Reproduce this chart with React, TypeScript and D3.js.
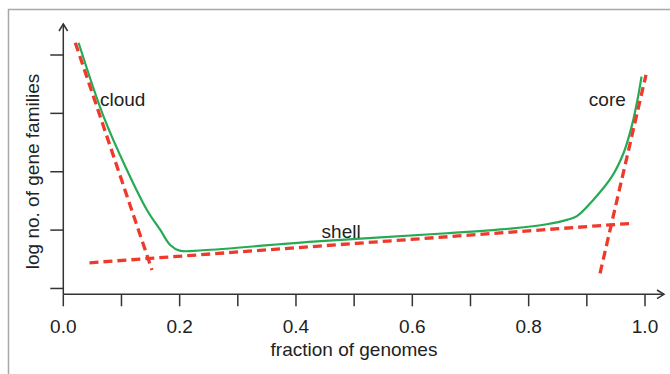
import React from "react";
import * as d3 from "d3";

// green curve (fraction of genomes vs log no. of gene families)
const curveX = [0.0263, 0.0693, 0.1094, 0.1438, 0.1667, 0.1838, 0.2, 0.24, 0.4296, 0.659, 0.773, 0.831, 0.866, 0.883, 0.911, 0.943, 0.963, 0.977, 0.987, 0.994];
const curveY = [5.21, 3.945, 3.03, 2.345, 2.002, 1.745, 1.648, 1.655, 1.802, 1.946, 2.031, 2.1, 2.175, 2.24, 2.517, 2.916, 3.317, 3.773, 4.23, 4.63];

// dashed fit lines: [x0, y0, x1, y1]
const fitNames = ["cloud", "shell", "core"];
const fitX0 = [0.0206, 0.045, 0.9227];
const fitY0 = [5.21, 1.44, 1.26];
const fitX1 = [0.1524, 0.979, 1.0017];
const fitY1 = [1.317, 2.117, 4.66];

const xTicks = [0, 0.1, 0.2, 0.3, 0.4, 0.5, 0.6, 0.7, 0.8, 0.9, 1.0];
const xTickLabels = ["0.0", "0.2", "0.4", "0.6", "0.8", "1.0"];
const xTickLabelValues = [0, 0.2, 0.4, 0.6, 0.8, 1.0];
const yTicks = [1, 2, 3, 4, 5];

const labels = ["cloud", "shell", "core"];
const labelX = [0.063, 0.444, 0.967];
const labelY = [4.13, 1.87, 4.13];
const labelAnchor = ["start", "start", "end"];

export default function App() {
  const x = d3.scaleLinear().domain([0, 1]).range([63.3, 645]);
  const y = d3.scaleLinear().domain([0.9, 5]).range([294.3, 55]);
  const axisColor = "#333";
  const font = "'Liberation Sans', Arial, Helvetica, sans-serif";

  const pts: [number, number][] = curveX.map((v, i) => [v, curveY[i]]);
  const line = d3
    .line<[number, number]>()
    .x((d) => x(d[0]))
    .y((d) => y(d[1]))
    .curve(d3.curveCatmullRom.alpha(0.5));

  const x0 = x(0);
  const y0 = y(0.9);
  const yTop = 24;
  const xEnd = 664;

  return (
    <svg width={670} height={374} style={{ position: "absolute", left: 0, top: 0, background: "#fff" }}>
      <rect x={0} y={0} width={670} height={374} fill="#fff" />
      {/* frame */}
      <path d="M8.5,374 L8.5,9.5 L670,9.5" fill="none" stroke="#a8a8a8" strokeWidth={1.5} />

      {/* axes */}
      <line x1={x0} y1={y0} x2={x0} y2={yTop} stroke={axisColor} strokeWidth={1.5} />
      <path d={`M${x0 - 4.3},${yTop + 7} L${x0},${yTop} L${x0 + 4.3},${yTop + 7}`} fill="none" stroke={axisColor} strokeWidth={1.5} />
      <line x1={x0} y1={y0} x2={xEnd} y2={y0} stroke={axisColor} strokeWidth={1.5} />
      <path d={`M${xEnd - 7},${y0 - 4.3} L${xEnd},${y0} L${xEnd - 7},${y0 + 4.3}`} fill="none" stroke={axisColor} strokeWidth={1.5} />

      {xTicks.map((t) => (
        <line key={"xt" + t} x1={x(t)} x2={x(t)} y1={y0} y2={y0 + 12} stroke={axisColor} strokeWidth={1.5} />
      ))}
      {yTicks.map((t) => (
        <line key={"yt" + t} x1={x0 - 13} x2={x0} y1={y(t)} y2={y(t)} stroke={axisColor} strokeWidth={1.5} />
      ))}
      {xTickLabels.map((l, i) => (
        <text key={"xl" + l} x={x(xTickLabelValues[i])} y={333} textAnchor="middle" fontFamily={font} fontSize={19} fill="#222">
          {l}
        </text>
      ))}
      <text x={354} y={356} textAnchor="middle" fontFamily={font} fontSize={19} fill="#222">
        fraction of genomes
      </text>
      <text transform={`translate(39,171.5) rotate(-90)`} textAnchor="middle" fontFamily={font} fontSize={19} fill="#222">
        log no. of gene families
      </text>

      {/* green curve */}
      <path d={line(pts) || ""} fill="none" stroke="#27aa55" strokeWidth={2.2} />

      {/* dashed fits */}
      {fitNames.map((n, i) => (
        <line
          key={"fit" + n}
          x1={x(fitX0[i])}
          y1={y(fitY0[i])}
          x2={x(fitX1[i])}
          y2={y(fitY1[i])}
          stroke="#ee3a2b"
          strokeWidth={3.3}
          strokeDasharray="9,5"
        />
      ))}

      {labels.map((l, i) => (
        <text key={"lab" + l} x={x(labelX[i])} y={y(labelY[i])} textAnchor={labelAnchor[i] as any} fontFamily={font} fontSize={19} fill="#222">
          {l}
        </text>
      ))}
    </svg>
  );
}
